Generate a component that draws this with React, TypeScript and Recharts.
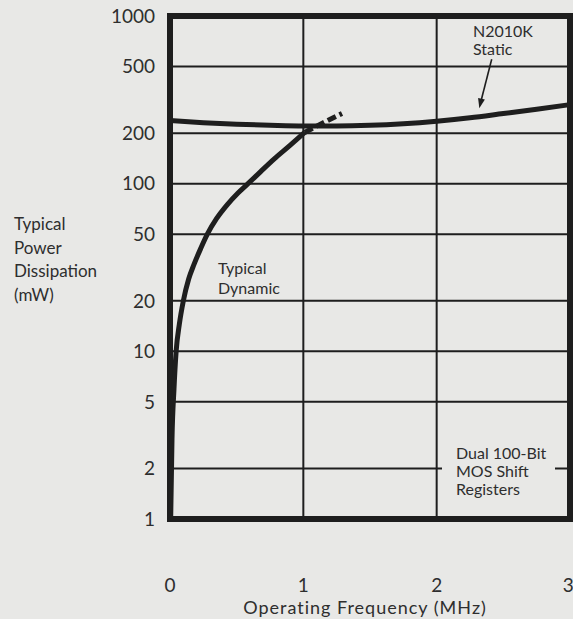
import { CartesianGrid, Line, LineChart, ReferenceArea, XAxis, YAxis } from "recharts"

const xTicks = [0, 1, 2, 3]
const yTicks = [1, 2, 5, 10, 20, 50, 100, 200, 500, 1000]

// N2010K static dissipation (mW) vs frequency (MHz)
const staticPower = [
  { f: 0, p: 238 },
  { f: 0.25, p: 231 },
  { f: 0.5, p: 226 },
  { f: 0.75, p: 223 },
  { f: 1, p: 221 },
  { f: 1.25, p: 221 },
  { f: 1.5, p: 223 },
  { f: 1.75, p: 228 },
  { f: 2, p: 236 },
  { f: 2.25, p: 247 },
  { f: 2.5, p: 262 },
  { f: 2.75, p: 278 },
  { f: 3, p: 296 },
]

// typical dynamic dissipation, solid part
const dynamicPower = [
  { f: 0.005, p: 1 },
  { f: 0.015, p: 3 },
  { f: 0.03, p: 6 },
  { f: 0.046, p: 10 },
  { f: 0.07, p: 14.5 },
  { f: 0.1, p: 20 },
  { f: 0.14, p: 27 },
  { f: 0.18, p: 33 },
  { f: 0.23, p: 41 },
  { f: 0.28, p: 50 },
  { f: 0.35, p: 62 },
  { f: 0.43, p: 75 },
  { f: 0.51, p: 88 },
  { f: 0.585, p: 100 },
  { f: 0.68, p: 118 },
  { f: 0.78, p: 140 },
  { f: 0.9, p: 169 },
  { f: 1.01, p: 202 },
]

// dashed extension past the static curve
const dynamicExtension = [
  { f: 1.01, p: 202 },
  { f: 1.15, p: 231 },
  { f: 1.29, p: 262 },
]

const bg = "#e8e8e6"
const ink = "#1e1e1e"
const textInk = "#2e2e2e"
const font = "Lato, 'Noto Sans', sans-serif"

export default function App() {
  return (
    <div
      style={{
        position: "absolute",
        top: 0,
        left: 0,
        width: 573,
        height: 619,
        background: bg,
        fontFamily: font,
        color: textInk,
        overflow: "hidden",
      }}
    >
      <LineChart width={573} height={619} data={staticPower} margin={{ top: 16, right: 3, bottom: 25, left: 0 }}>
        <CartesianGrid stroke={ink} strokeWidth={2} horizontalValues={yTicks} verticalValues={xTicks} />
        <XAxis
          dataKey="f"
          type="number"
          domain={[0, 3]}
          ticks={xTicks}
          height={75}
          axisLine={false}
          tickLine={false}
          tickSize={0}
          tickMargin={60}
          tick={{ fontSize: 19, fill: textInk, fontFamily: font }}
        />
        <YAxis
          dataKey="p"
          scale="log"
          domain={[1, 1000]}
          ticks={yTicks}
          allowDataOverflow
          width={170}
          axisLine={false}
          tickLine={false}
          tickSize={0}
          tickMargin={15}
          tick={{ fontSize: 19, fill: textInk, fontFamily: font }}
        />
        <Line
          data={staticPower}
          dataKey="p"
          type="monotone"
          stroke={ink}
          strokeWidth={5}
          dot={false}
          isAnimationActive={false}
        />
        <Line
          data={dynamicPower}
          dataKey="p"
          type="monotone"
          stroke={ink}
          strokeWidth={5}
          dot={false}
          isAnimationActive={false}
        />
        <Line
          data={dynamicExtension}
          dataKey="p"
          type="monotone"
          stroke={ink}
          strokeWidth={5}
          strokeDasharray="9 4"
          dot={false}
          isAnimationActive={false}
        />
        <ReferenceArea x1={0} x2={3} y1={1} y2={1000} fill="none" stroke={ink} strokeWidth={6} />
      </LineChart>

      <div style={{ position: "absolute", left: 14, top: 212, fontSize: 17, lineHeight: "23.5px" }}>
        Typical
        <br />
        Power
        <br />
        Dissipation
        <br />
        (mW)
      </div>

      <div
        style={{
          position: "absolute",
          left: 0,
          width: 730,
          top: 598,
          fontSize: 18,
          letterSpacing: 1,
          lineHeight: "18px",
          textAlign: "center",
        }}
      >
        Operating Frequency (MHz)
      </div>

      <div style={{ position: "absolute", left: 473, top: 22, fontSize: 16, lineHeight: "18.3px" }}>
        N2010K
        <br />
        Static
      </div>

      <div style={{ position: "absolute", left: 218, top: 258, fontSize: 16, lineHeight: "19.5px" }}>
        Typical
        <br />
        Dynamic
      </div>

      <div
        style={{
          position: "absolute",
          left: 442,
          width: 113,
          top: 443.5,
          paddingLeft: 14,
          boxSizing: "border-box",
          fontSize: 16,
          lineHeight: "18.3px",
          background: bg,
        }}
      >
        Dual 100-Bit
        <br />
        MOS Shift
        <br />
        Registers
      </div>

      <svg width={573} height={619} style={{ position: "absolute", left: 0, top: 0, pointerEvents: "none" }}>
        <line x1={491.7} y1={59.3} x2={481} y2={101} stroke={ink} strokeWidth={1.6} />
        <polygon points="479.3,108.3 484.9,99.6 478.1,97.9" fill={ink} />
      </svg>
    </div>
  )
}
